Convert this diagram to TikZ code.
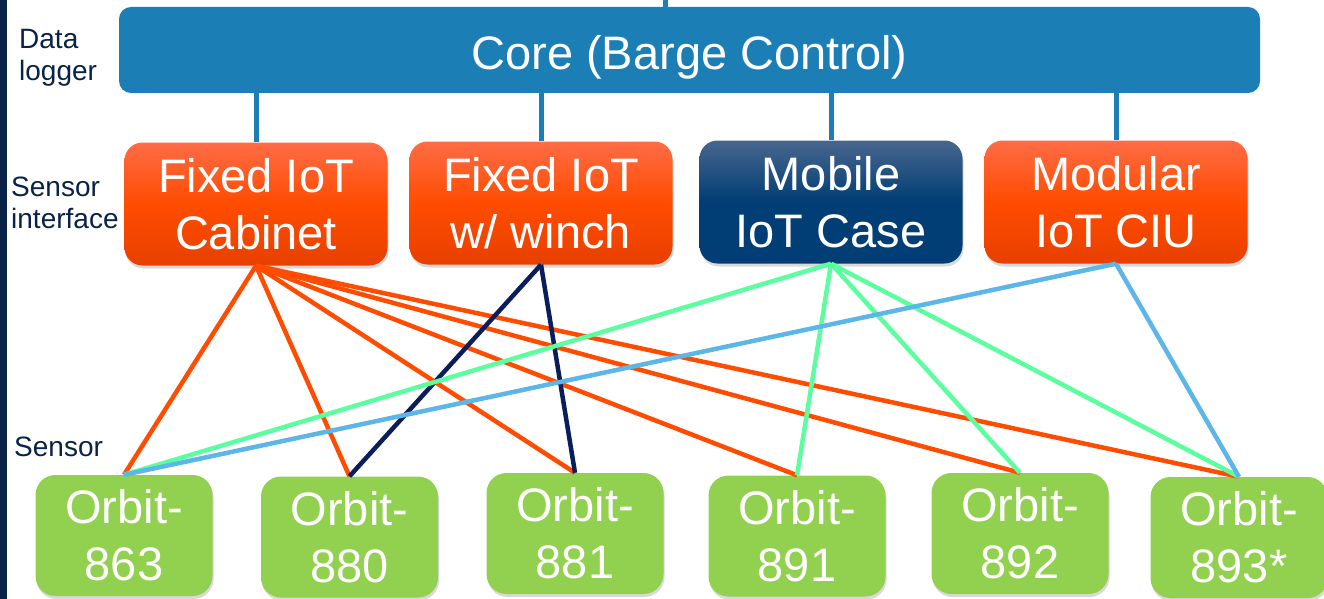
\documentclass[tikz,border=0pt]{standalone}
\usepackage{fontspec}
\setmainfont{Liberation Sans}
\usetikzlibrary{shadows}
\definecolor{corecol}{RGB}{27,126,181}
\definecolor{navycol}{RGB}{8,34,72}
\definecolor{orangetop}{RGB}{255,108,70}
\definecolor{orangemid}{RGB}{255,76,0}
\definecolor{orangebot}{RGB}{232,64,0}
\definecolor{mobiletop}{RGB}{72,102,142}
\definecolor{mobilemid}{RGB}{0,62,117}
\definecolor{orbitcol}{RGB}{146,208,80}
\definecolor{linkorange}{RGB}{255,76,0}
\definecolor{linknavy}{RGB}{10,30,92}
\definecolor{linkmint}{RGB}{92,255,160}
\definecolor{linkblue}{RGB}{92,182,232}
\begin{document}
\begin{tikzpicture}[x=1pt,y=-1pt,
  big/.style={font=\fontsize{47}{57}\selectfont, text=white, align=center, inner sep=0pt},
  side/.style={font=\fontsize{28}{32}\selectfont, text=navycol, align=left, anchor=west, inner sep=0pt},
  boxshadow/.style={drop shadow={opacity=0.3, shadow xshift=1pt, shadow yshift=-3pt}},
  iface/.style={big, rounded corners=18pt, minimum width=263pt, minimum height=123pt, boxshadow},
  fixedbox/.style={iface, top color=orangetop, bottom color=orangebot, middle color=orangemid},
  mobilebox/.style={iface, top color=mobiletop, bottom color=mobilemid, middle color=mobilemid},
  orbit/.style={big, fill=orbitcol, rounded corners=20pt, minimum width=177pt, minimum height=121pt, boxshadow},
  uplink/.style={corecol, line width=5pt},
  link/.style={line width=4.5pt}]
\useasboundingbox (0,0) rectangle (1324,599);
\fill[navycol] (0,0) rectangle (7,599);
\node[side] (lblData) at (19,58) {Data\\logger};
\node[side] (lblIface) at (11,203) {Sensor\\interface};
\node[side] (lblSensor) at (14,447) {Sensor};
\node[big, fill=corecol, rounded corners=12pt, minimum width=1141pt, minimum height=86pt, text height=40pt, text depth=0pt] (core) at (689.5,50) {Core (Barge Control)};
\node[fixedbox] (cabinet) at (256,204) {Fixed IoT\\Cabinet};
\node[fixedbox] (winch) at (541,203) {Fixed IoT\\w/ winch};
\node[mobilebox] (mobile) at (831,202) {Mobile\\IoT Case};
\node[fixedbox] (modular) at (1116,202) {Modular\\IoT CIU};
\node[orbit] (o863) at (124,535.5) {Orbit-\\863};
\node[orbit] (o880) at (349.5,537) {Orbit-\\880};
\node[orbit] (o881) at (575,533.5) {Orbit-\\881};
\node[orbit] (o891) at (797,536) {Orbit-\\891};
\node[orbit] (o892) at (1020,533.5) {Orbit-\\892};
\node[orbit] (o893) at (1239,537.5) {Orbit-\\893*};
\coordinate (topend) at (665,0);
\draw[uplink] (topend) -- (topend |- core.north);
\foreach \b in {cabinet,winch,mobile,modular}
  \draw[uplink] (core.south -| \b.north) -- (\b.north);
\foreach \o in {o863,o880,o881,o891,o892,o893}
  \draw[link, linkorange] (cabinet.south) -- (\o.north);
\foreach \o in {o880,o881}
  \draw[link, linknavy] (winch.south) -- (\o.north);
\foreach \o in {o863,o891,o892,o893}
  \draw[link, linkmint] (mobile.south) -- (\o.north);
\foreach \o in {o863,o893}
  \draw[link, linkblue] (modular.south) -- (\o.north);
\end{tikzpicture}
\end{document}
